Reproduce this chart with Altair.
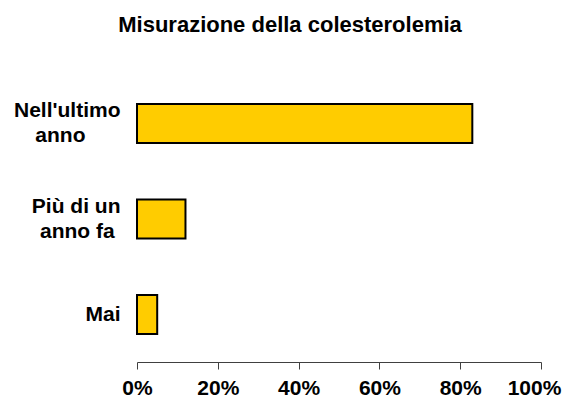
import json
import altair as alt
import pandas as pd

TITLE = "Misurazione della colesterolemia"
CATEGORIES = ["Nell'ultimo anno", "Più di un anno fa", "Mai"]
VALUES = [0.83, 0.12, 0.05]
NBSP = "\u00a0"
ZWSP = "\u200b"
LABEL_LINES = [
    ["Nell'ultimo", "anno" + NBSP * 6 + ZWSP],
    ["Più di un", "anno fa" + NBSP + ZWSP],
    ["Mai"],
]
X_TICKS = [0, 0.2, 0.4, 0.6, 0.8, 1.0]
LINE_HEIGHT = 25

df = pd.DataFrame({"categoria": CATEGORIES, "valore": VALUES})

parts = [
    f"datum.value == {json.dumps(c, ensure_ascii=False)} ? {json.dumps(l, ensure_ascii=False)}"
    for c, l in zip(CATEGORIES, LABEL_LINES)
]
label_expr = " : ".join(parts) + " : datum.label"

# centre multi-line label blocks on their bars
single_line = [c for c, l in zip(CATEGORIES, LABEL_LINES) if len(l) == 1]
single_test = " || ".join(f"datum.value == {json.dumps(c, ensure_ascii=False)}" for c in single_line)
label_offset = {"condition": {"test": single_test, "value": 0}, "value": -LINE_HEIGHT / 2}

# keep the last x label inside the page
x_label_offset = {"condition": {"test": f"datum.value == {X_TICKS[-1]}", "value": -7}, "value": 0}

FONT = "Liberation Sans"

chart = (
    alt.Chart(df)
    .mark_bar(color="#FFCC00", stroke="black", strokeWidth=2)
    .encode(
        x=alt.X(
            "valore:Q",
            scale=alt.Scale(domain=[0, 1], nice=False),
            axis=alt.Axis(
                title=None,
                values=X_TICKS,
                format=".0%",
                grid=False,
                domainColor="#404040",
                tickColor="#404040",
                tickSize=7,
                labelFont=FONT,
                labelFontSize=21,
                labelFontWeight="bold",
                labelColor="black",
                labelPadding=8,
                labelFlush=False,
                labelOffset=x_label_offset,
            ),
        ),
        y=alt.Y(
            "categoria:N",
            sort=CATEGORIES,
            scale=alt.Scale(paddingInner=0.592, paddingOuter=0.293),
            axis=alt.Axis(
                title=None,
                domain=False,
                ticks=False,
                grid=False,
                labelExpr=label_expr,
                labelFont=FONT,
                labelFontSize=21,
                labelFontWeight="bold",
                labelColor="black",
                labelAlign="right",
                labelBaseline="middle",
                labelLineHeight=LINE_HEIGHT,
                labelOffset=label_offset,
                labelPadding=17,
                labelLimit=300,
            ),
        ),
    )
    .properties(
        width=404,
        height=286,
        title=alt.TitleParams(
            text=TITLE,
            font=FONT,
            fontSize=22,
            fontWeight="bold",
            color="black",
            anchor="middle",
            frame="group",
            dx=-49,
            baseline="alphabetic",
            offset=22,
        ),
        autosize=alt.AutoSizeParams(type="none"),
        padding={"left": 129, "top": 68, "right": 21, "bottom": 41},
    )
    .configure_view(stroke=None)
)

chart.save("out.html", embed_options={"renderer": "svg", "actions": False})
